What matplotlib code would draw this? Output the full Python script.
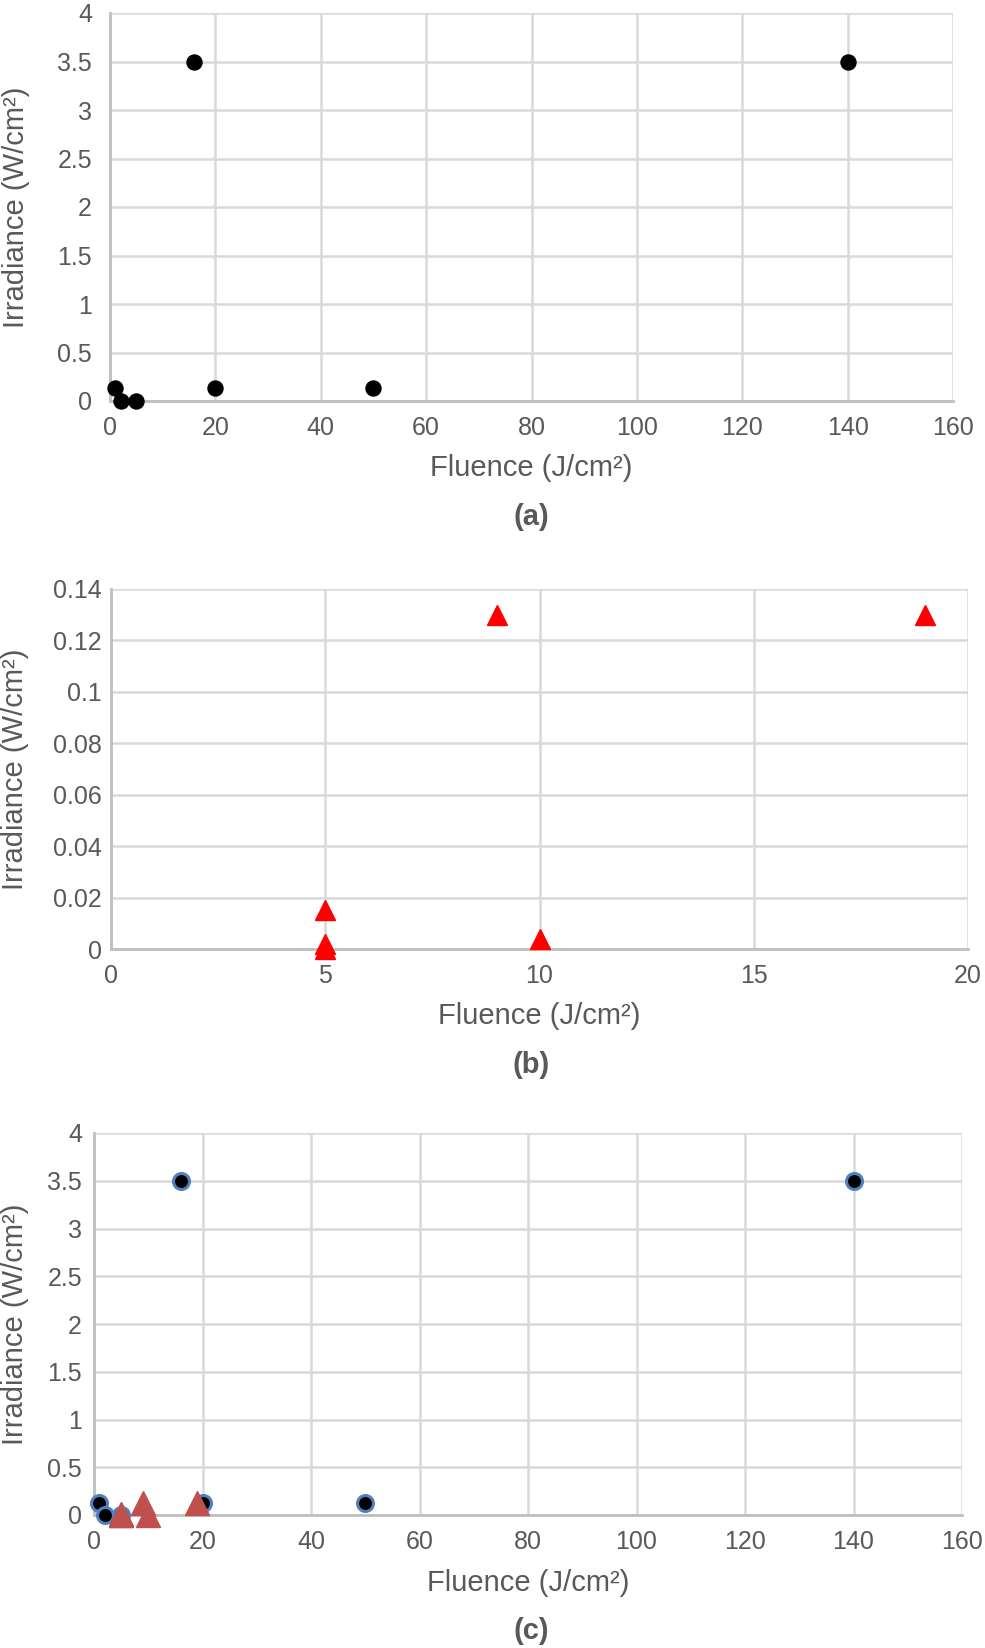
import matplotlib
matplotlib.use("Agg")
import matplotlib.pyplot as plt
from matplotlib.ticker import FuncFormatter, MultipleLocator

plt.rcParams['font.family'] = ['Liberation Sans', 'DejaVu Sans']

# Data
fluence_a = [1, 2, 5, 16, 20, 50, 140]
irradiance_a = [0.13, 0.0, 0.0, 3.5, 0.13, 0.13, 3.5]

fluence_b = [9, 19, 5, 5, 5, 10]
irradiance_b = [0.13, 0.13, 0.015, 0.002, 0.0, 0.004]

xlabel = "Fluence (J/cm²)"
ylabel = "Irradiance (W/cm²)"
panel_labels = ["(a)", "(b)", "(c)"]

W, H = 985, 1648
fig = plt.figure(figsize=(W / 100, H / 100), dpi=100)

TXT = "#595959"
GRID = "#d9d9d9"
SPINE = "#bfbfbf"
PX = 0.72  # points per pixel at 100 dpi

def make_ax(left, right, top, bottom, ypad_px, xpad_px, xlab_y_px, ylab_x_px):
    ax = fig.add_axes([left / W, 1 - bottom / H, (right - left) / W, (bottom - top) / H])
    for s in ["top", "right"]:
        ax.spines[s].set_visible(False)
    for s in ["left", "bottom"]:
        ax.spines[s].set_color(SPINE)
        ax.spines[s].set_linewidth(2.0)
    ax.grid(True, color=GRID, linewidth=1.8)
    ax.set_axisbelow(True)
    ax.tick_params(length=0, labelsize=18, labelcolor=TXT)
    ax.tick_params(axis='y', pad=ypad_px * PX)
    ax.tick_params(axis='x', pad=xpad_px * PX)
    ax.yaxis.set_major_formatter(FuncFormatter(lambda v, p: "%g" % round(v, 6)))
    ax.xaxis.set_major_formatter(FuncFormatter(lambda v, p: "%g" % round(v, 6)))
    ax.set_xlabel(xlabel, fontsize=21, color=TXT)
    ax.set_ylabel(ylabel, fontsize=21, color=TXT)
    ax.xaxis.label.set_va('center')
    ax.yaxis.label.set_va('center')
    ax.xaxis.set_label_coords(0.5, (bottom - xlab_y_px) / (bottom - top))
    ax.yaxis.set_label_coords((ylab_x_px - left) / (right - left), 0.5)
    return ax

# Panel (a)
ax1 = make_ax(110, 953, 13, 401, 18, 15, 468, 16)
ax1.plot(fluence_a, irradiance_a, 'o', color='black', ms=10.8, clip_on=False, zorder=3)
ax1.set_xlim(0, 160)
ax1.set_ylim(0, 4)
ax1.xaxis.set_major_locator(MultipleLocator(20))
ax1.yaxis.set_major_locator(MultipleLocator(0.5))
fig.text(531 / W, 1 - 517 / H, panel_labels[0], ha='center', va='center',
         fontsize=21, fontweight='bold', color=TXT)

# Panel (b)
ax2 = make_ax(111, 968, 589, 949, 9, 15, 1016, 15)
ax2.plot(fluence_b, irradiance_b, '^', color='#ff0000', ms=15, clip_on=False, zorder=3)
ax2.set_xlim(0, 20)
ax2.set_ylim(0, 0.14)
ax2.xaxis.set_major_locator(MultipleLocator(5))
ax2.yaxis.set_major_locator(MultipleLocator(0.02))
fig.text(531 / W, 1 - 1065 / H, panel_labels[1], ha='center', va='center',
         fontsize=21, fontweight='bold', color=TXT)

# Panel (c)
ax3 = make_ax(94, 962, 1133, 1515, 12, 15, 1583, 15)
ax3.plot(fluence_a, irradiance_a, 'o', color='black', mec='#4f81bd', mew=2.2,
         ms=11.5, clip_on=False, zorder=3)
ax3.plot(fluence_b, irradiance_b, '^', color='#c0504d', ms=17, clip_on=False, zorder=4)
ax3.set_xlim(0, 160)
ax3.set_ylim(0, 4)
ax3.xaxis.set_major_locator(MultipleLocator(20))
ax3.yaxis.set_major_locator(MultipleLocator(0.5))
fig.text(531 / W, 1 - 1631 / H, panel_labels[2], ha='center', va='center',
         fontsize=21, fontweight='bold', color=TXT)

fig.savefig("out.png", dpi=100)
